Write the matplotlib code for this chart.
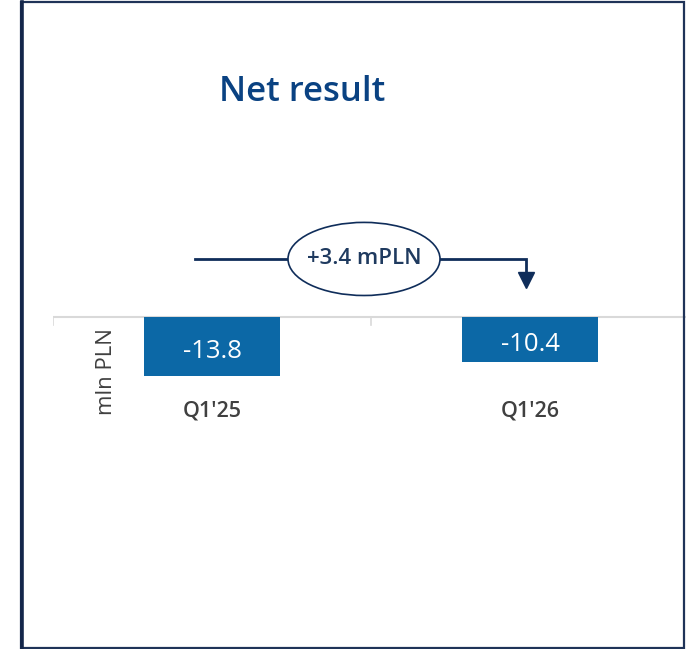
import matplotlib.pyplot as plt
from matplotlib.patches import Ellipse, Rectangle

plt.rcParams['font.family'] = ['Open Sans', 'DejaVu Sans']

categories = ["Q1'25", "Q1'26"]
net_result = [-13.8, -10.4]
change_label = '+3.4 mPLN'
unit_label = 'mln PLN'
title = 'Net result'

bar_color = '#0c68a6'
navy = '#0f2d5a'

fig = plt.figure(figsize=(6.86, 6.49), dpi=100)

# outer frame of the slide panel
fig.patches.append(Rectangle((21 / 686, 1 / 649), 663 / 686, 646 / 649, transform=fig.transFigure,
                             fill=False, edgecolor='#1f3358', lw=1.6, zorder=0))
fig.add_artist(plt.Line2D([21.5 / 686, 21.5 / 686], [1 / 649, 647 / 649], transform=fig.transFigure,
                          color='#14264a', lw=2.6))

ax = fig.add_axes([53 / 686, 0.0, 636 / 686, 1.0])
ax.set_xlim(-0.5, len(categories) - 0.5)
px = 4.3  # pixels per mln PLN
ax.set_ylim(-332 / px, 317 / px)
ax.axis('off')

x = list(range(len(categories)))
ax.bar(x, net_result, width=0.43, color=bar_color, zorder=2)

# baseline and category separators
ax.axhline(0, color='#d9d9d9', lw=1.5, zorder=1)
for b in [-0.5, 0.5]:
    ax.plot([b, b], [0, -1.9], color='#d9d9d9', lw=1.2, zorder=1)

for xi, v, cat in zip(x, net_result, categories):
    ax.text(xi, v / 2 - 1.2, f'{v:.1f}', ha='center', va='center', color='white', fontsize=18.5)
    ax.text(xi, -21.8, cat, ha='center', va='center', color='#404040', fontsize=15.5,
            fontweight='semibold')

ax.text(-0.333, -12.8, unit_label, rotation=90, ha='center', va='center', color='#404040',
        fontsize=16)

# change arrow from first to second bar
y_line = 13.5
x_start = x[0] - 0.053
x_end = x[1] - 0.013
ax.plot([x_start, x_end, x_end], [y_line, y_line, 9.5], color=navy, lw=2, zorder=3,
        solid_joinstyle='miter')
ax.plot([x_end], [8.6], marker='v', markersize=11, color=navy, zorder=3)

x_mid = (x[0] + x[1]) / 2 - 0.022
ax.add_patch(Ellipse((x_mid, y_line), 0.478, 17, facecolor='white', edgecolor=navy, lw=1.2, zorder=4))
ax.text(x_mid, y_line, change_label, ha='center', va='center', color='#1f3a5f', fontsize=16,
        fontweight='semibold', zorder=5)

fig.text(302 / 686, 1 - 92 / 649, title, ha='center', va='center', color='#0a4282', fontsize=25,
         fontweight='semibold')

fig.savefig('out.png', dpi=100)
